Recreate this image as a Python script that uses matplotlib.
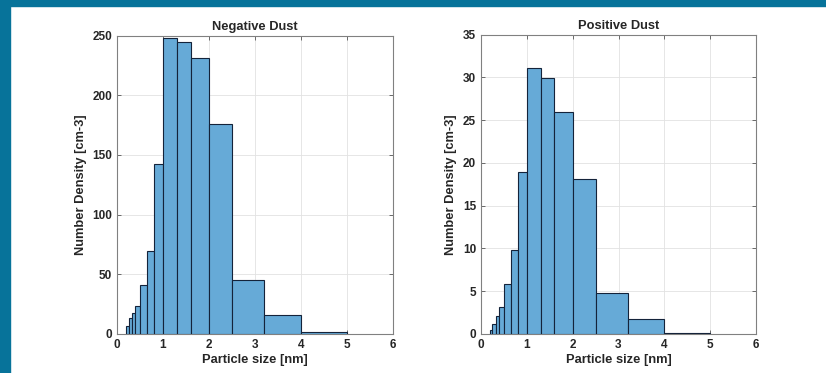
################################################################################
# Dust size distributions, negative and positive charge
################################################################################

import matplotlib.pyplot as plt
from matplotlib.patches import Rectangle
import numpy as np

plt.rcParams['font.family'] = ['Liberation Sans', 'DejaVu Sans']
plt.rcParams['font.weight'] = 'bold'

# bin edges [nm]
bin_edges = [0.2, 0.25, 0.32, 0.4, 0.5, 0.65, 0.8, 1.0, 1.3, 1.6, 2.0, 2.5, 3.2, 4.0, 5.0]

# number density per bin [cm-3]
neg_counts = [7, 13.4, 18, 23.7, 41, 69.5, 142.5, 248, 244.5, 231.5, 175.5, 45, 16.2, 1.4]
pos_counts = [0.5, 1.2, 2.07, 3.16, 5.9, 9.86, 18.9, 31.1, 29.9, 26.0, 18.15, 4.8, 1.8, 0.16]

titles = ['Negative Dust', 'Positive Dust']
ylims = [250, 35]
yticks = [np.arange(0, 251, 50), np.arange(0, 36, 5)]

face = (0.4, 0.667, 0.845)
txt = '#262626'

fig = plt.figure(figsize=(8.26, 3.73), dpi=100)
fig.patch.set_facecolor('white')

# teal frame of the screenshot
fig.patches.append(Rectangle((0, 0), 10 / 826, 1, transform=fig.transFigure,
                             color='#07739a', zorder=0))
fig.patches.append(Rectangle((0, 1 - 6 / 373), 1, 6 / 373, transform=fig.transFigure,
                             color='#07739a', zorder=0))

positions = [[117 / 826, 1 - 334 / 373, 276 / 826, 298.5 / 373],
             [481 / 826, 1 - 334 / 373, 275 / 826, 299.5 / 373]]

for k, counts in enumerate([neg_counts, pos_counts]):
    ax = fig.add_axes(positions[k])
    edges = np.array(bin_edges)
    ax.bar(edges[:-1], counts, width=np.diff(edges), align='edge',
           color=face, edgecolor='#14233a', linewidth=0.8, zorder=3)
    ax.set_xlim(0, 6)
    ax.set_ylim(0, ylims[k])
    ax.set_xticks(np.arange(0, 7, 1))
    ax.set_yticks(yticks[k])
    ax.grid(True, color='#e2e2e2', linewidth=0.6, zorder=0)
    ax.set_axisbelow(True)
    ax.tick_params(direction='in', top=True, right=True, length=3,
                   width=0.6, colors='#555555', labelcolor=txt, labelsize=8.5)
    for s in ax.spines.values():
        s.set_color('#808080')
        s.set_linewidth(0.8)
    ax.set_title(titles[k], fontsize=9.3, fontweight='bold', color=txt, pad=4)
    ax.set_xlabel('Particle size [nm]', fontsize=9.3, fontweight='bold', color=txt,
                  labelpad=2)
    ax.set_ylabel('Number Density [cm-3]', fontsize=9.3, fontweight='bold', color=txt,
                  labelpad=4)

plt.savefig('out.png', dpi=100)
